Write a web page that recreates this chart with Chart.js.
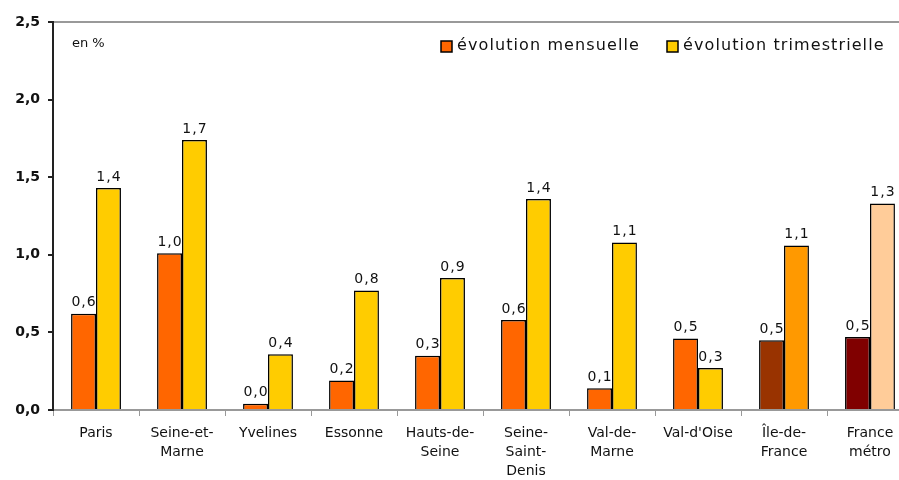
<!DOCTYPE html>
<html>
<head>
<meta charset="utf-8">
<script src="https://cdn.jsdelivr.net/npm/chart.js@4.4.1/dist/chart.umd.min.js"></script>
<style>
  body{margin:0;overflow:hidden;background:#fff;}
  #wrap{width:920px;height:480px;position:relative;}
</style>
</head>
<body>
<div id="wrap"><canvas id="myChart"></canvas></div>
<script>
'use strict';

// categories (multi-line labels like the original)
const categories=[['Paris'],['Seine-et-','Marne'],['Yvelines'],['Essonne'],['Hauts-de-','Seine'],['Seine-','Saint-','Denis'],['Val-de-','Marne'],["Val-d'Oise"],['Île-de-','France'],['France','métro']];

// series values
const mensuelle=[0.62,1.01,0.04,0.19,0.35,0.58,0.14,0.46,0.45,0.47];
const trimestrielle=[1.43,1.74,0.36,0.77,0.85,1.36,1.08,0.27,1.06,1.33];

// labels printed above bars
const mensuelleLabels=['0,6','1,0','0,0','0,2','0,3','0,6','0,1','0,5','0,5','0,5'];
const trimestrielleLabels=['1,4','1,7','0,4','0,8','0,9','1,4','1,1','0,3','1,1','1,3'];

const seriesNames=['évolution mensuelle','évolution trimestrielle'];
const yTicks=[0,0.5,1,1.5,2,2.5];

const mensColors=['#FF6600','#FF6600','#FF6600','#FF6600','#FF6600','#FF6600','#FF6600','#FF6600','#993300','#800000'];
const trimColors=['#FFCC00','#FFCC00','#FFCC00','#FFCC00','#FFCC00','#FFCC00','#FFCC00','#FFCC00','#FF9900','#FFCC99'];

const fontName='"DejaVu Sans", Verdana, sans-serif';

// draws value labels, the legend and the "en %" note
const extraText={
  id:'extraText',
  afterDatasetsDraw(chart){
    let ctx=chart.ctx;
    let area=chart.chartArea;
    ctx.save();
    ctx.font='14px '+fontName;
    ctx.letterSpacing='1px';
    ctx.fillStyle='#111';
    ctx.textAlign='center';
    ctx.textBaseline='bottom';
    let lists=[mensuelleLabels,trimestrielleLabels];
    for(let d=0;d<2;d++){
      let meta=chart.getDatasetMeta(d);
      for(let i=0;i<meta.data.length;i++){
        let bar=meta.data[i];
        ctx.fillText(lists[d][i],bar.x+0.5,bar.y-4);
      }
    }
    ctx.letterSpacing='0px';
    ctx.textAlign='left';
    ctx.textBaseline='middle';
    ctx.font='13px '+fontName;
    ctx.fillText('en %',area.left+19,area.top+22);

    // legend
    ctx.font='16px '+fontName;
    ctx.letterSpacing='1.1px';
    let boxX=[441,667];
    let boxCol=['#FF6600','#FFCC00'];
    for(let k=0;k<2;k++){
      ctx.fillStyle=boxCol[k];
      ctx.fillRect(boxX[k],41,11,11);
      ctx.strokeStyle='#000';
      ctx.lineWidth=1.5;
      ctx.strokeRect(boxX[k],41,11,11);
      ctx.fillStyle='#111';
      ctx.fillText(seriesNames[k],boxX[k]+16,46);
    }
    ctx.restore();
  }
};

let ctx=document.getElementById('myChart').getContext('2d');
let myChart=new Chart(ctx,{
  type:'bar',
  data:{
    labels:categories,
    datasets:[{
      label:seriesNames[0],
      data:mensuelle,
      backgroundColor:mensColors,
      borderColor:'#000',
      borderWidth:1.5,
      categoryPercentage:0.58,
      barPercentage:1
    },{
      label:seriesNames[1],
      data:trimestrielle,
      backgroundColor:trimColors,
      borderColor:'#000',
      borderWidth:1.5,
      categoryPercentage:0.58,
      barPercentage:1
    }]
  },
  options:{
    responsive:true,
    maintainAspectRatio:false,
    animation:false,
    layout:{padding:{top:22,right:7,left:0,bottom:0}},
    plugins:{
      legend:{display:false},
      tooltip:{enabled:false}
    },
    scales:{
      x:{
        grid:{
          offset:true,
          drawOnChartArea:false,
          tickLength:6,
          tickColor:'#999'
        },
        border:{color:'#999',width:2},
        ticks:{
          color:'#111',
          font:{family:fontName,size:14,lineHeight:1.36},
          maxRotation:0,
          autoSkip:false,
          padding:8
        },
        afterFit(scale){
          scale.height=70;
        }
      },
      y:{
        min:0,
        max:2.5,
        afterBuildTicks(scale){
          scale.ticks=yTicks.map(v=>({value:v}));
        },
        grid:{
          color(c){
            return c.tick && c.tick.value===2.5 ? '#999' : 'rgba(0,0,0,0)';
          },
          lineWidth:2,
          tickLength:5,
          tickColor:'#222'
        },
        border:{color:'#222',width:2},
        ticks:{
          color:'#111',
          font:{family:fontName,size:14,weight:'bold'},
          padding:8,
          callback(v){
            return v.toFixed(1).replace('.',',');
          }
        },
        afterFit(scale){
          scale.width=53;
        }
      }
    }
  },
  plugins:[extraText]
});
</script>
</body>
</html>
